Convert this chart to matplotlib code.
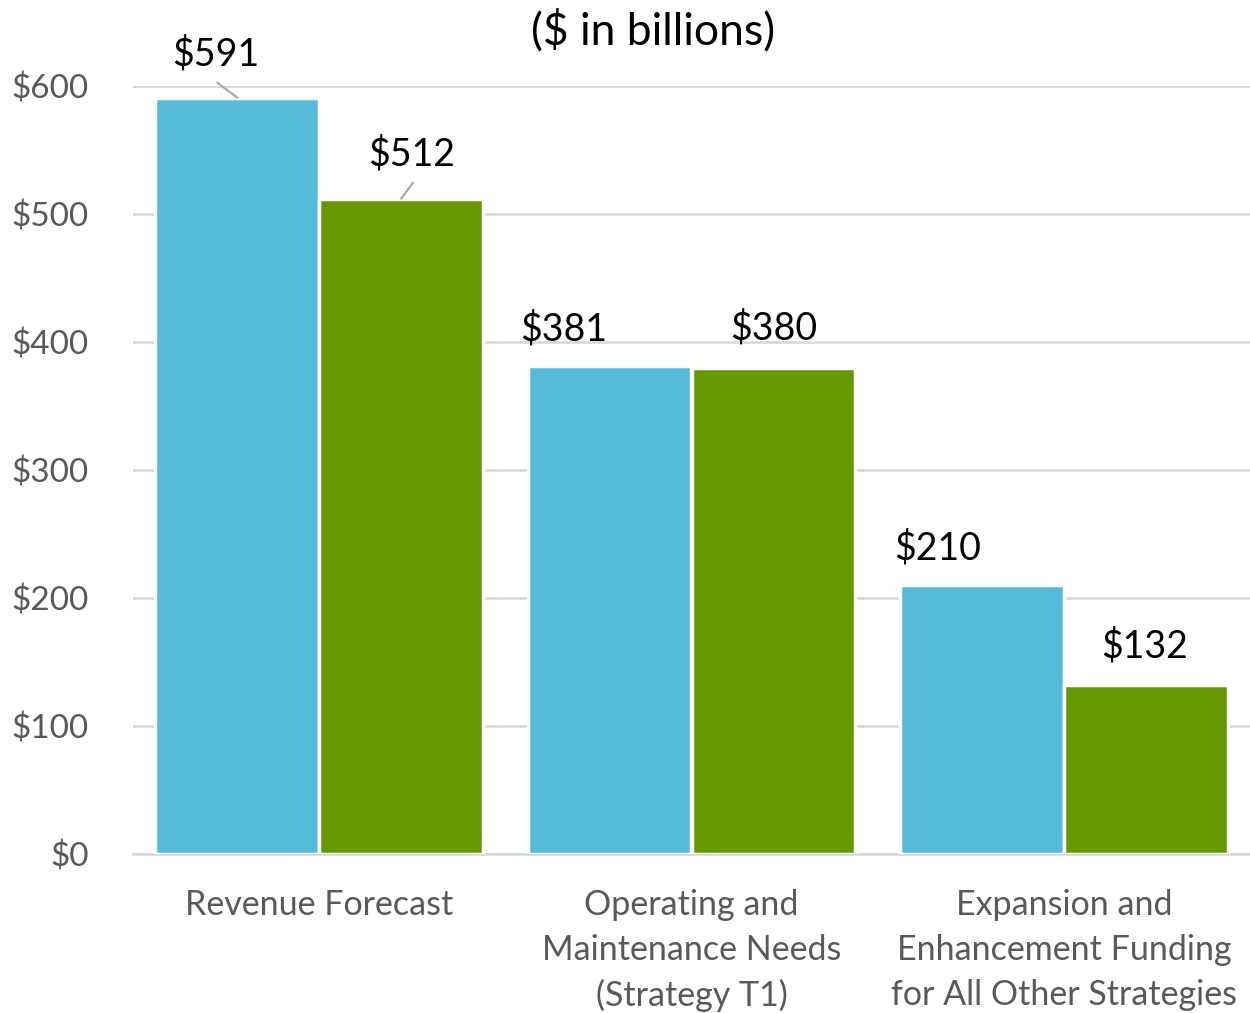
import matplotlib
matplotlib.use("Agg")
import matplotlib.pyplot as plt
import numpy as np

categories = ["Revenue Forecast",
              "Operating and\nMaintenance Needs\n(Strategy T1)",
              "Expansion and\nEnhancement Funding\nfor All Other Strategies"]
series_a = [591, 381, 210]
series_b = [512, 380, 132]
yticks = [0, 100, 200, 300, 400, 500, 600]
ytick_labels = ["$0", "$100", "$200", "$300", "$400", "$500", "$600"]
title = "($ in billions)"

# label offsets (pixels) relative to bar top centre
a_offsets = [(-22, 43), (-46, 37), (-44, 37)]
b_offsets = [(11, 44), (0, 39), (-1, 39)]
# leader line end offsets (pixels) relative to bar top centre
a_leaders = [(-20, 15), None, None]
b_leaders = [(12, 16), None, None]

FONT = "Lato"
plt.rcParams['font.family'] = [FONT, 'DejaVu Sans']

blue = "#56BBD9"
green = "#669900"
grid = "#D9D9D9"
tickc = "#595959"

fig = plt.figure(figsize=(12.5, 10.13), dpi=100)
ax = fig.add_axes([0.1064, 0.157, 0.8936, 0.758])
x = np.arange(len(categories))
w = 0.44
ba = ax.bar(x - w / 2, series_a, w, color=blue, edgecolor="white", linewidth=2.5, zorder=3)
bb = ax.bar(x + w / 2, series_b, w, color=green, edgecolor="white", linewidth=2.5, zorder=3)

ax.set_xlim(-0.5, 2.5)
ax.set_ylim(0, 600)
ax.set_yticks(yticks)
ax.set_yticklabels(ytick_labels, fontsize=24, color=tickc)
ax.set_xticks(x)
ax.set_xticklabels(categories, fontsize=24.5, color=tickc, linespacing=1.5, va="top")
ax.tick_params(axis="both", length=0)
ax.tick_params(axis="y", pad=32)
ax.tick_params(axis="x", pad=25)
ax.grid(axis="y", color=grid, linewidth=2, zorder=0)
for s in ["top", "right", "left"]:
    ax.spines[s].set_visible(False)
ax.spines["bottom"].set_color(grid)
ax.spines["bottom"].set_linewidth(2)
ax.spines["bottom"].set_zorder(1)

def label(bars, vals, offs, leaders):
    for b, v, o, ld in zip(bars, vals, offs, leaders):
        cx = b.get_x() + b.get_width() / 2
        ax.annotate(f"${v}", xy=(cx, v), xytext=o, textcoords="offset pixels",
                    ha="center", va="center", fontsize=27, color="black",
                    annotation_clip=False)
        if ld is not None:
            ax.annotate("", xy=(cx, v), xytext=ld, textcoords="offset pixels",
                        arrowprops=dict(arrowstyle="-", color="#A6A6A6", lw=1.5,
                                        shrinkA=0, shrinkB=0),
                        annotation_clip=False)

label(ba, series_a, a_offsets, a_leaders)
label(bb, series_b, b_offsets, b_leaders)

fig.text(653 / 1250, 1 - 31 / 1013, title, ha="center", va="center", fontsize=32, color="black")

fig.savefig("out.png", dpi=100)
